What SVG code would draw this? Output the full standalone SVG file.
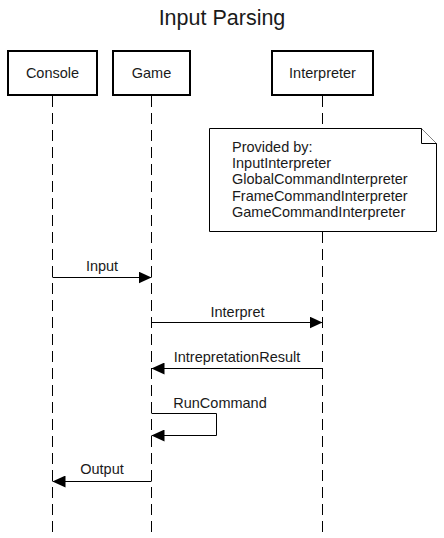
<svg xmlns="http://www.w3.org/2000/svg" width="444" height="538" viewBox="0 0 444 538">
<defs>
<style>
text{font-family:"Liberation Sans",Arial,sans-serif;font-size:14.5px;fill:#1a1a1a}
.box{fill:#fff;stroke:#000;stroke-width:2}
.life{stroke:#000;stroke-width:1;stroke-dasharray:11 6;fill:none}
.msg{stroke:#000;stroke-width:1;fill:none}
.note{fill:#fff;stroke:#000;stroke-width:1}
</style>
<marker id="ah" viewBox="0 0 13 12" refX="13" refY="6" markerWidth="13" markerHeight="12" markerUnits="userSpaceOnUse" orient="auto">
<path d="M0,0 L13,6 L0,12 Z" fill="#000"/>
</marker>
</defs>
<rect width="444" height="538" fill="#fff"/>
<text x="222" y="25" text-anchor="middle" style="font-size:21.5px">Input Parsing</text>
<g id="lifelines">
<line class="life" x1="52.5" y1="96" x2="52.5" y2="538"/>
<line class="life" x1="151.5" y1="96" x2="151.5" y2="538"/>
<line class="life" x1="322.5" y1="96" x2="322.5" y2="538"/>
</g>
<g id="console"><rect class="box" x="8" y="51" width="89" height="44"/><text x="52.5" y="78" text-anchor="middle">Console</text></g>
<g id="game"><rect class="box" x="113" y="51" width="77" height="44"/><text x="151.5" y="78" text-anchor="middle">Game</text></g>
<g id="interpreter"><rect class="box" x="272" y="51" width="101" height="44"/><text x="322.5" y="78" text-anchor="middle">Interpreter</text></g>
<g id="note">
<path class="note" d="M209.5,128.5 H421.5 L436.5,143.5 V231.5 H209.5 Z"/>
<path class="note" d="M421.5,128.5 V143.5 H436.5" fill="none"/>
<text x="232" y="152">Provided by:</text>
<text x="232" y="168">InputInterpreter</text>
<text x="232" y="184">GlobalCommandInterpreter</text>
<text x="232" y="200.5">FrameCommandInterpreter</text>
<text x="232" y="217">GameCommandInterpreter</text>
</g>
<g id="connectors">
<line class="msg" x1="52.5" y1="277.5" x2="151.5" y2="277.5" marker-end="url(#ah)"/>
<text x="102" y="271" text-anchor="middle">Input</text>
<line class="msg" x1="151.5" y1="322.5" x2="322.5" y2="322.5" marker-end="url(#ah)"/>
<text x="237.5" y="317" text-anchor="middle">Interpret</text>
<line class="msg" x1="322.5" y1="368.5" x2="151.5" y2="368.5" marker-end="url(#ah)"/>
<text x="237" y="362" text-anchor="middle">IntrepretationResult</text>
<path class="msg" d="M151.5,413.5 H216.5 V435.5 H151.5" marker-end="url(#ah)"/>
<text x="220" y="408" text-anchor="middle">RunCommand</text>
<line class="msg" x1="151.5" y1="481.5" x2="52.5" y2="481.5" marker-end="url(#ah)"/>
<text x="102" y="474" text-anchor="middle">Output</text>
</g>
</svg>
